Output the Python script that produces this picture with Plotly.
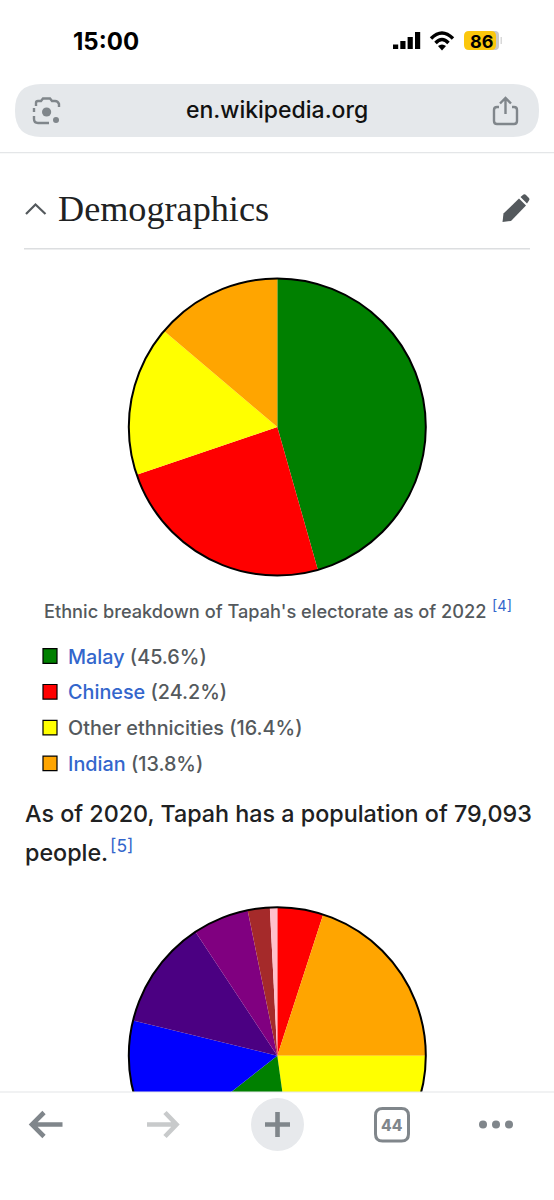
import plotly.graph_objects as go

# ---- data ----
ethnic_labels = ["Malay", "Chinese", "Other ethnicities", "Indian"]
ethnic_values = [45.6, 24.2, 16.4, 13.8]
ethnic_colors = ["#008000", "#ff0000", "#ffff00", "#ffa500"]
ethnic_linked = [True, True, False, True]

second_labels = ["Red", "Orange", "Yellow", "Green", "Blue", "Indigo", "Purple", "Brown", "Pink"]
second_values = [5.0, 20.0, 22.8, 16.6, 14.4, 11.9, 6.1, 2.4, 0.8]
second_colors = ["#ff0000", "#ffa500", "#ffff00", "#008000", "#0000ff", "#4b0082", "#800080", "#a52a2a", "#ffc0cb"]

caption = "Ethnic breakdown of Tapah's electorate as of 2022"
sentence_1 = "As of 2020, Tapah has a population of 79,093"
sentence_2 = "people."

W, H = 554, 1206
BODY = "Inter, 'Noto Sans', sans-serif"
LINK = "#3366cc"
GREY = "#80868b"

def pie_trace(labels, values, colors, cx, cy, r):
    return go.Pie(labels=labels, values=values, sort=False, direction="clockwise", rotation=0,
                  textinfo="none", hoverinfo="label+percent",
                  marker=dict(colors=colors, line=dict(width=0)),
                  domain=dict(x=[(cx - r) / W, (cx + r) / W], y=[1 - (cy + r) / H, 1 - (cy - r) / H]))

fig = go.Figure()
fig.add_trace(go.Scatter(x=[0], y=[0], mode="markers", marker=dict(opacity=0, size=1), hoverinfo="skip"))
fig.add_trace(pie_trace(ethnic_labels, ethnic_values, ethnic_colors, 277.3, 427, 148.5))
fig.add_trace(pie_trace(second_labels, second_values, second_colors, 277.3, 1055.7, 148.5))

shapes, notes = [], []

def rect(x0, y0, x1, y1, fill, line=None, lw=0):
    shapes.append(dict(type="rect", xref="x", yref="y", x0=x0, y0=y0, x1=x1, y1=y1, fillcolor=fill,
                       line=dict(width=lw, color=line or fill)))

def circle(cx, cy, rx, ry=None, fill="rgba(0,0,0,0)", line=None, lw=0):
    ry = ry or rx
    shapes.append(dict(type="circle", xref="x", yref="y", x0=cx - rx, y0=cy - ry, x1=cx + rx, y1=cy + ry,
                       fillcolor=fill, line=dict(width=lw, color=line or fill)))

def path(d, stroke=None, lw=0, fill="rgba(0,0,0,0)"):
    shapes.append(dict(type="path", xref="x", yref="y", path=d, fillcolor=fill,
                       line=dict(width=lw, color=stroke or "rgba(0,0,0,0)")))

def rrect(x0, y0, x1, y1, r):
    return (f"M{x0+r},{y0} L{x1-r},{y0} Q{x1},{y0} {x1},{y0+r} L{x1},{y1-r} Q{x1},{y1} {x1-r},{y1} "
            f"L{x0+r},{y1} Q{x0},{y1} {x0},{y1-r} L{x0},{y0+r} Q{x0},{y0} {x0+r},{y0} Z")

def text(x, y, s, size, color="#202122", family=BODY, weight=400, anchor="left"):
    notes.append(dict(x=x, y=y, xref="x", yref="y", text=s, showarrow=False, xanchor=anchor, yanchor="middle",
                      borderpad=0, font=dict(size=size, color=color, family=family, weight=weight)))

# pie outlines
circle(277.3, 427, 148.5, line="#000000", lw=2)
circle(277.3, 1055.7, 148.5, line="#000000", lw=2)

# status bar
text(72, 41, "15:00", 24, "#000000", weight=700)
for x, top in zip([393, 400.3, 407.6, 415], [44.5, 41, 37, 32]):
    rect(x, top, x + 5.2, 49, "#000000")
path("M431,38.5 Q442,27.5 453,38.5", "#000000", 3.4)
path("M435.5,43 Q442,36 448.5,43", "#000000", 3.4)
path("M438,46 Q442,43 446,46 L442,50.5 Z", fill="#000000")
path(rrect(489, 31, 499, 50, 4), fill="#c9c9c9")
path(rrect(464, 31, 496, 50, 5), fill="#fbc70d")
rect(500.5, 37, 502, 44, "#d8d8d8")
text(481, 41, "86", 18, "#000000", weight=700, anchor="center")

# address bar
path(rrect(15, 84, 539, 137, 26), fill="#e5e8eb")
text(276.5, 110, "en.wikipedia.org", 23, "#111111", weight=500, anchor="center")
path("M36,106 L36,103 Q36,101 38,101 L41,101 L43,98.5 L50,98.5 L52,101 L55,101 Q58,101 59,104 L59,107", GREY, 2.4)
path("M34,116 L34,119 Q34,123 38,123 L49,123", GREY, 2.4)
path("M34,108 L34,112", GREY, 2.4)
circle(46.6, 112, 4.6, fill=GREY)
circle(56, 120, 3, fill=GREY)
path("M499,107 L497,107 Q494,107 494,110 L494,121 Q494,124 497,124 L514,124 Q517,124 517,121 L517,110 Q517,107 514,107 L512,107", GREY, 2.4)
path("M505.5,114 L505.5,98.5 M500,103.5 L505.5,98 L511,103.5", GREY, 2.4)
rect(0, 152, W, 153.2, "#e4e6e8")

# heading
path("M26,214 L35.5,204.5 L45.5,214", "#54595d", 2.2)
text(56.5, 208.5, "Demographics", 36.2, "#202122", family="'Liberation Serif', serif")
path("M502.5,222 L503.5,213.5 L519,198.5 L526,205.5 L511,221 Z", fill="#54595d")
path("M520.5,197 L523.5,194.5 Q525,193.8 526,195 L529,198 Q530,199.2 529,200.5 L527,203.5 Z", fill="#54595d")
rect(24, 248, 530, 249.4, "#dcdee0")

# caption and legend
text(42.5, 611, caption, 18.2, "#54595d", weight=500)
text(491, 605, "[4]", 14.5, LINK)
for i, (lab, val, col, linked) in enumerate(zip(ethnic_labels, ethnic_values, ethnic_colors, ethnic_linked)):
    yc = 656 + i * 35.8
    rect(43, yc - 7.3, 57, yc + 7.3, col, "#000000", 1.2)
    name = f'<span style="color:{LINK}">{lab}</span>' if linked else lab
    text(66.5, yc + 0.5, f"{name} ({val}%)", 19.8, "#54595d", weight=500)

# paragraph
text(24, 813, sentence_1, 23.3, "#202122", weight=500)
text(24, 852, sentence_2, 23.3, "#202122", weight=500)
text(108.5, 845, "[5]", 17.5, LINK)

# bottom toolbar
rect(0, 1092, W, H, "#ffffff")
rect(0, 1091.6, W, 1092.6, "#e4e6e8")
path("M62.5,1124.5 L32,1124.5 M44,1112.5 L32,1124.5 L44,1136.5", GREY, 4.6)
path("M147,1124.5 L176.5,1124.5 M165,1112.5 L176.5,1124.5 L165,1136.5", "#c8cacb", 4.6)
circle(277.5, 1124.5, 26.5, fill="#e7e9ec")
path("M265,1124.5 L290,1124.5 M277.5,1112 L277.5,1137", GREY, 4.6)
path(rrect(375.5, 1108.5, 408.5, 1141, 7), GREY, 3)
text(392, 1125.5, "44", 15.5, GREY, weight=800, anchor="center")
for x in [483, 496, 509]:
    circle(x, 1124.5, 4, fill=GREY)

fig.update_layout(
    width=W, height=H, margin=dict(l=0, r=0, t=0, b=0, pad=0), showlegend=False,
    paper_bgcolor="#ffffff", plot_bgcolor="rgba(0,0,0,0)",
    xaxis=dict(range=[0, W], visible=False, domain=[0, 1], fixedrange=True),
    yaxis=dict(range=[H, 0], visible=False, domain=[0, 1], fixedrange=True),
    shapes=shapes, annotations=notes,
)
fig.write_html("out.html", config=dict(displayModeBar=False),
               post_script="document.documentElement.style.overflow='hidden';document.body.style.margin='0';document.body.style.overflow='hidden';")
